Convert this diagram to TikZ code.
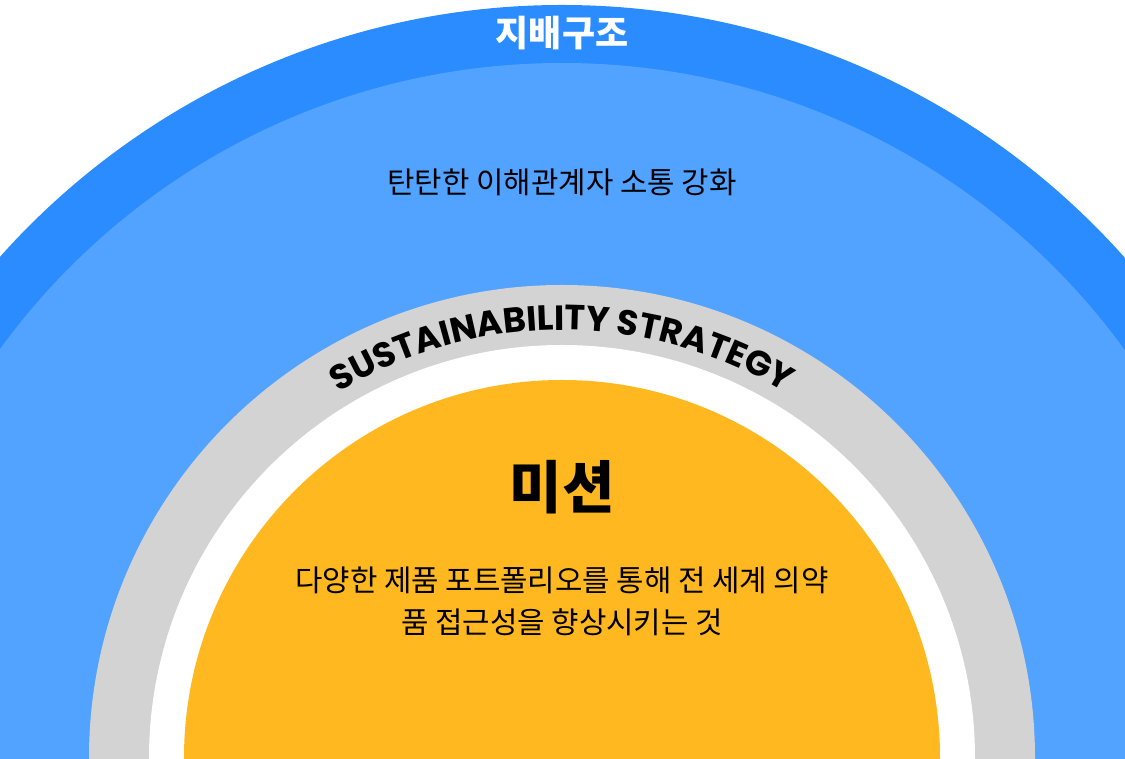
\documentclass[tikz,border=0pt]{standalone}
\usepackage{fontspec}
\setmainfont{Noto Sans CJK KR}
\newfontfamily\pop{Poppins}
\usetikzlibrary{decorations.text,calc}
\definecolor{darkblue}{HTML}{2B8CFF}
\definecolor{lightblue}{HTML}{52A2FF}
\definecolor{ringgray}{HTML}{D3D3D3}
\definecolor{missionyellow}{HTML}{FFB81F}
\tikzset{
  body/.style={font=\fontsize{29.8}{42}\selectfont, text=black, align=center},
}
\begin{document}
\begin{tikzpicture}[x=1pt,y=1pt]
\useasboundingbox (0,0) rectangle (1125,759);
\clip (0,0) rectangle (1125,759);
\fill[white] (0,0) rectangle (1125,759);
\coordinate (c) at (562,1);
\fill[darkblue] (c) circle[radius=753];
\fill[lightblue] (c) circle[radius=695];
\fill[ringgray] (c) circle[radius=473];
\fill[white] (c) circle[radius=413];
\fill[missionyellow] (c) circle[radius=378];
\node[font=\fontsize{36}{36}\selectfont\bfseries, text=white] (gov) at (562,726) {지배구조};
\node[body] (stake) at (562,577) {탄탄한 이해관계자 소통 강화};
\path[decorate, decoration={text along path, text align=center,
  text={|\pop\bfseries\fontsize{35}{35}\selectfont|SUSTAINABILITY STRATEGY}}]
  ($(c)+(180:428)$) arc[start angle=180, end angle=0, radius=428];
\node[font=\fontsize{57}{57}\selectfont\bfseries, text=black] (mission) at (562,272) {미션};
\node[body] (desc) at (562,158) {다양한 제품 포트폴리오를 통해 전 세계 의약\\품 접근성을 향상시키는 것};
\end{tikzpicture}
\end{document}
